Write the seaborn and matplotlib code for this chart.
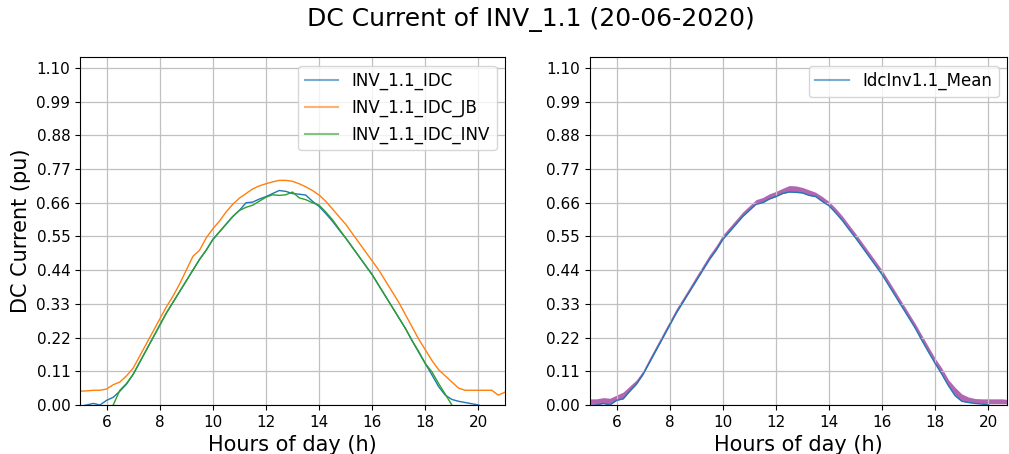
import numpy as np
import pandas as pd
import matplotlib
matplotlib.use("Agg")
import matplotlib.pyplot as plt
import seaborn as sns

# ---- data ----
hours = [5.0, 5.25, 5.5, 5.75, 6.0, 6.25, 6.5, 6.75, 7.0, 7.25, 7.5, 7.75, 8.0, 8.25, 8.5, 8.75,
         9.0, 9.25, 9.5, 9.75, 10.0, 10.25, 10.5, 10.75, 11.0, 11.25, 11.5, 11.75, 12.0, 12.25,
         12.5, 12.75, 13.0, 13.25, 13.5, 13.75, 14.0, 14.25, 14.5, 14.75, 15.0, 15.25, 15.5,
         15.75, 16.0, 16.25, 16.5, 16.75, 17.0, 17.25, 17.5, 17.75, 18.0, 18.25, 18.5, 18.75,
         19.0, 19.25, 19.5, 19.75, 20.0, 20.25, 20.5, 20.75, 21.0]

inv_idc = [-0.005, 0.0, 0.005, 0.0, 0.015, 0.025, 0.045, 0.068, 0.1, 0.14, 0.18, 0.22, 0.26,
           0.3, 0.335, 0.37, 0.405, 0.44, 0.475, 0.505, 0.54, 0.565, 0.59, 0.615, 0.635, 0.66,
           0.662, 0.672, 0.68, 0.69, 0.7, 0.697, 0.69, 0.688, 0.685, 0.665, 0.648, 0.625, 0.6,
           0.572, 0.545, 0.515, 0.485, 0.455, 0.425, 0.39, 0.355, 0.32, 0.285, 0.25, 0.21,
           0.172, 0.135, 0.098, 0.06, 0.032, 0.018, 0.012, 0.008, 0.004, 0.0, -0.01, -0.01,
           -0.01, -0.01]

inv_idc_jb = [0.045, 0.046, 0.048, 0.048, 0.052, 0.066, 0.075, 0.095, 0.12, 0.16, 0.2, 0.24,
              0.28, 0.32, 0.355, 0.395, 0.44, 0.485, 0.505, 0.545, 0.575, 0.6, 0.63, 0.655,
              0.675, 0.69, 0.705, 0.715, 0.722, 0.728, 0.733, 0.733, 0.73, 0.722, 0.712, 0.7,
              0.685, 0.665, 0.64, 0.615, 0.59, 0.56, 0.53, 0.5, 0.47, 0.44, 0.405, 0.37, 0.335,
              0.295, 0.255, 0.215, 0.18, 0.145, 0.115, 0.095, 0.075, 0.055, 0.048, 0.048, 0.048,
              0.048, 0.048, 0.032, 0.042]

inv_idc_inv = [-0.05, -0.05, -0.05, -0.05, -0.03, 0.0, 0.048, 0.07, 0.1, 0.14, 0.18, 0.22,
               0.26, 0.3, 0.335, 0.37, 0.405, 0.44, 0.475, 0.505, 0.54, 0.565, 0.59, 0.615,
               0.635, 0.645, 0.652, 0.665, 0.678, 0.686, 0.684, 0.686, 0.695, 0.676, 0.67,
               0.66, 0.652, 0.63, 0.605, 0.575, 0.545, 0.515, 0.485, 0.455, 0.425, 0.39, 0.355,
               0.32, 0.285, 0.25, 0.21, 0.175, 0.135, 0.108, 0.07, 0.035, 0.0, -0.03, -0.05,
               -0.05, -0.05, -0.05, -0.05, -0.05, -0.05]

mean_hours = hours[:-1]
idc_mean = [-0.005, 0.0, 0.005, 0.0, 0.015, 0.02, 0.045, 0.068, 0.1, 0.14, 0.18, 0.22, 0.26,
            0.3, 0.335, 0.37, 0.405, 0.44, 0.475, 0.505, 0.54, 0.565, 0.59, 0.615, 0.635,
            0.655, 0.66, 0.672, 0.68, 0.69, 0.695, 0.694, 0.692, 0.684, 0.68, 0.664, 0.65,
            0.627, 0.602, 0.573, 0.545, 0.515, 0.485, 0.455, 0.425, 0.39, 0.355, 0.32, 0.285,
            0.25, 0.21, 0.172, 0.135, 0.1, 0.062, 0.03, 0.012, 0.008, 0.005, 0.003, 0.0,
            -0.01, -0.01, -0.01]
band_low = [0.0, 0.0, 0.005, 0.0, 0.015, 0.02, 0.045, 0.068, 0.1, 0.14, 0.18, 0.22, 0.26,
            0.3, 0.335, 0.37, 0.405, 0.44, 0.475, 0.505, 0.54, 0.565, 0.59, 0.615, 0.635,
            0.655, 0.66, 0.672, 0.68, 0.69, 0.695, 0.694, 0.692, 0.684, 0.68, 0.664, 0.65,
            0.627, 0.602, 0.573, 0.545, 0.515, 0.485, 0.455, 0.425, 0.39, 0.355, 0.32, 0.285,
            0.25, 0.21, 0.172, 0.135, 0.1, 0.062, 0.03, 0.012, 0.008, 0.006, 0.005, 0.004,
            0.004, 0.004, 0.004]
band_high = [0.02, 0.02, 0.024, 0.022, 0.032, 0.042, 0.062, 0.082, 0.112, 0.154, 0.194, 0.234,
             0.274, 0.314, 0.349, 0.384, 0.42, 0.455, 0.49, 0.52, 0.555, 0.58, 0.605,
             0.63, 0.65, 0.67, 0.677, 0.689, 0.697, 0.707, 0.716, 0.715, 0.71, 0.702,
             0.694, 0.68, 0.664, 0.642, 0.617, 0.588, 0.56, 0.53, 0.5, 0.47, 0.44,
             0.405, 0.37, 0.335, 0.3, 0.265, 0.227, 0.189, 0.152, 0.12, 0.082, 0.057, 0.036,
             0.026, 0.021, 0.02, 0.02, 0.02, 0.02, 0.018]

series_names = ["INV_1.1_IDC", "INV_1.1_IDC_JB", "INV_1.1_IDC_INV"]
yticks = [0.00, 0.11, 0.22, 0.33, 0.44, 0.55, 0.66, 0.77, 0.88, 0.99, 1.10]
xticks = [6, 8, 10, 12, 14, 16, 18, 20]

# ---- figure ----
fig = plt.figure(figsize=(10.09, 4.54), dpi=100)
ax1 = fig.add_axes([0.0793, 0.108, 0.4212, 0.766])
ax2 = fig.add_axes([0.5847, 0.108, 0.4133, 0.766])

df = pd.DataFrame({
    "hour": hours * 3,
    "value": inv_idc + inv_idc_jb + inv_idc_inv,
    "series": sum([[n] * len(hours) for n in series_names], []),
})
sns.lineplot(data=df, x="hour", y="value", hue="series", hue_order=series_names,
             palette=["#1f77b4", "#ff7f0e", "#2ca02c"], linewidth=1.0, ax=ax1)

ax2.fill_between(mean_hours, band_low, band_high, color="purple", alpha=0.6, linewidth=0)
sns.lineplot(x=mean_hours, y=idc_mean, color="#1f77b4", linewidth=1.0, ax=ax2,
             label="IdcInv1.1_Mean")

for ax, xmax in ((ax1, 21.0), (ax2, 20.7)):
    ax.set_xlim(5, xmax)
    ax.set_ylim(0, 1.135)
    ax.set_yticks(yticks)
    ax.set_yticklabels([f"{v:.2f}" for v in yticks])
    ax.set_xticks(xticks)
    ax.tick_params(labelsize=11)
    ax.grid(True, color="#c0c0c0", linewidth=0.9)
    ax.set_xlabel("Hours of day (h)", fontsize=15)
    ax.set_ylabel("")
    leg = ax.legend(loc="upper right", fontsize=12)
    for h in leg.get_lines():
        h.set_linewidth(1.5)
        h.set_alpha(0.6)

ax1.set_ylabel("DC Current (pu)", fontsize=15)
fig.suptitle("DC Current of INV_1.1 (20-06-2020)", fontsize=18, x=0.526, y=0.985)

fig.savefig("out.png", dpi=100)
